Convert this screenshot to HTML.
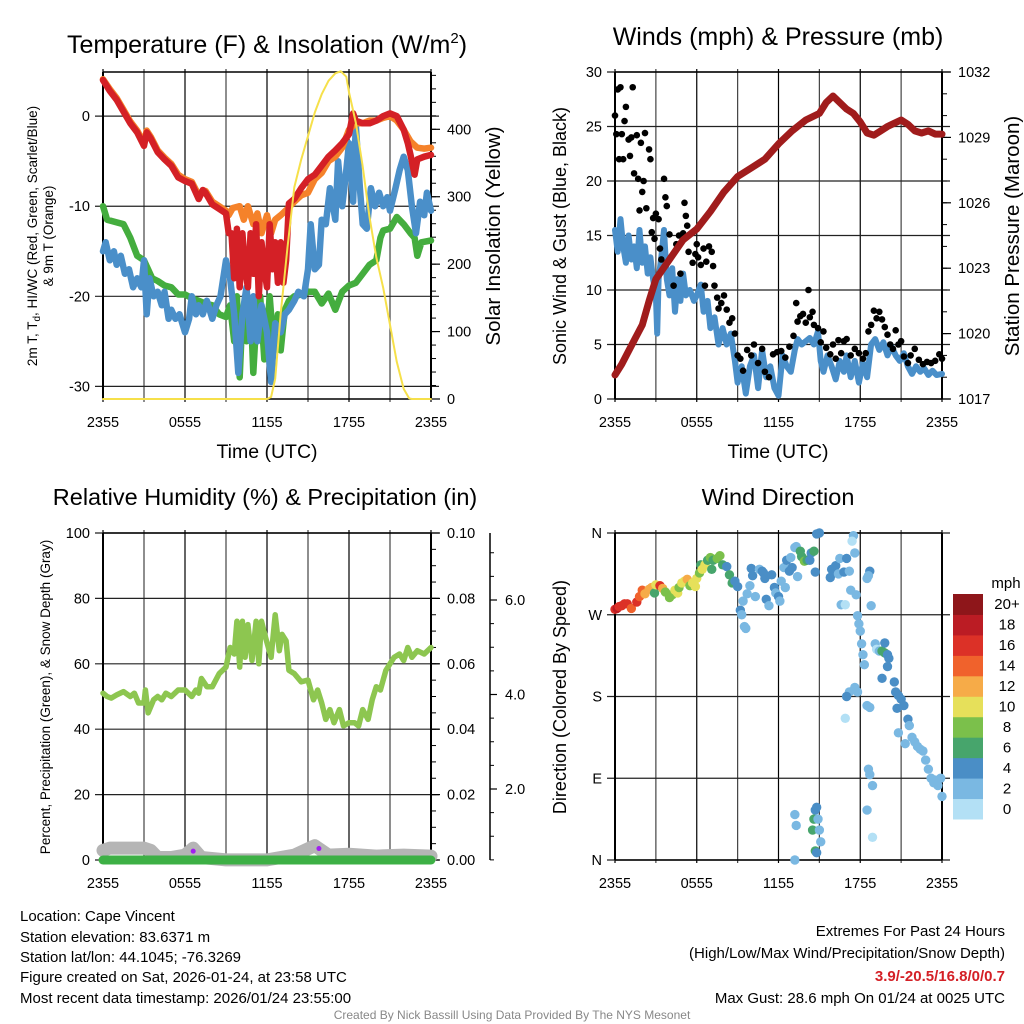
<!DOCTYPE html>
<html><head><meta charset="utf-8"><style>
html,body{margin:0;padding:0;background:#fff;}
svg{display:block;font-family:"Liberation Sans",sans-serif;}
</style></head><body>
<svg id="chart" xmlns="http://www.w3.org/2000/svg" width="1024" height="1024" viewBox="0 0 1024 1024"></svg>
<script>
// ---------- DATA ----------
const xTickLabels = ["2355","0555","1155","1755","2355"];
const tempTicks = [0,-10,-20,-30];
const solarTicks = [0,100,200,300,400];
const windTicks = [0,5,10,15,20,25,30];
const pressTicks = [1017,1020,1023,1026,1029,1032];
const rhTicks = [0,20,40,60,80,100];
const precipTicks = [0,0.02,0.04,0.06,0.08,0.10];
const snowTicks = [2,4,6];
const dirLabels = ["N","E","S","W","N"];
const dirTicks = [0,90,180,270,360];
const speedBins = ["0","2","4","6","8","10","12","14","16","18","20+"];
const speedColors = ["#b3e0f5","#7ab8e2","#4a8ec6","#47a56c","#7bc04b","#e6e05a","#f6ab48","#f0622c","#dc3127","#bb1c24","#8e161a"];

const tempRed = [[0,4],[0.5,2.8],[1,1.8],[1.5,0.5],[2,-0.8],[2.5,-1.8],[3,-3.3],[3.2,-1.8],[3.5,-2.5],[4,-4],[4.5,-4.8],[5,-5.5],[5.5,-6.8],[6,-7.2],[6.5,-7.5],[7,-9.2],[7.3,-8.2],[7.5,-8.5],[8,-9.8],[8.5,-10.3],[9,-10.8],[9.2,-13],[9.4,-13],[9.6,-18],[9.8,-12.5],[10,-19],[10.2,-13],[10.4,-17],[10.6,-19],[10.8,-13],[11,-17.5],[11.2,-12],[11.4,-20],[11.6,-14],[11.8,-17],[12,-19],[12.2,-12],[12.4,-17],[12.6,-14],[12.8,-18.5],[13,-14],[13.2,-18.5],[13.4,-16],[13.6,-9.7],[14,-9.2],[14.5,-8],[15,-7],[15.5,-6.5],[16,-5.5],[16.5,-4.5],[17,-3.8],[17.5,-3],[18,-2],[18.3,0.3],[18.5,-0.5],[19,-0.8],[19.5,-0.8],[20,-0.5],[20.5,0],[21,0.3],[21.5,0],[22,-1.5],[22.3,-3],[22.5,-4.3],[22.8,-6.5],[23,-4.8],[23.5,-4.5],[24,-4.3]];
const tempOrange = [[0,4.1],[0.5,3],[1,2],[1.5,0.7],[2,-0.6],[2.5,-1.6],[3,-3],[3.2,-1.6],[3.5,-2.3],[4,-3.8],[4.5,-4.6],[5,-5.3],[5.5,-6.5],[6,-7],[6.5,-7.3],[7,-8.8],[7.5,-8.3],[8,-9.5],[8.5,-10],[9,-10.5],[9.2,-11],[9.5,-10.2],[10,-10],[10.3,-11.5],[10.6,-10],[11,-12],[11.3,-10.8],[11.6,-13],[12,-11],[12.3,-13],[12.6,-11.5],[13,-11],[13.5,-10.3],[14,-9.5],[14.5,-8.8],[15,-8.5],[15.5,-7],[16,-6.3],[16.5,-5],[17,-4.5],[17.5,-3.5],[18,-1.5],[18.5,-0.8],[19,-0.8],[19.5,-0.5],[20,-0.5],[20.5,-0.2],[21,0],[21.5,-0.5],[22,-1.5],[22.5,-2.8],[23,-3.5],[23.5,-3.6],[24,-3.5]];
const tempGreen = [[0,-10],[0.3,-11.5],[1,-11.8],[1.5,-12],[2,-13.5],[2.5,-15.5],[3,-16],[3.3,-17],[3.6,-18],[4,-18.3],[4.5,-18.8],[5,-19],[5.5,-19.8],[6,-19.8],[6.5,-20.2],[7,-20.5],[7.5,-20.8],[8,-21],[8.5,-22],[9,-22.3],[9.3,-21],[9.6,-25],[9.8,-20],[10,-29],[10.2,-22],[10.5,-25],[10.8,-21],[11,-28.5],[11.2,-23],[11.5,-20],[11.8,-27],[12,-24],[12.2,-20],[12.5,-26],[12.8,-22],[13,-26],[13.3,-21.5],[13.6,-20.5],[14,-20],[14.5,-19.8],[15,-19.5],[15.5,-19.5],[16,-20.8],[16.5,-19.7],[17,-21.5],[17.5,-19.5],[18,-18.8],[18.5,-18.5],[19,-17.5],[19.5,-16.5],[20,-16],[20.3,-13.5],[20.5,-12.7],[21,-12.5],[21.5,-11.2],[22,-12],[22.5,-13],[22.8,-13.5],[23,-15.5],[23.3,-14],[24,-13.8]];
const tempBlue = [[0,-15],[0.2,-14],[0.5,-16],[0.8,-15],[1,-16.5],[1.3,-15.5],[1.6,-17.5],[1.9,-17],[2.2,-19],[2.5,-18],[2.8,-19],[3,-16],[3.2,-22],[3.4,-18],[3.7,-20],[4,-19.5],[4.3,-21],[4.5,-19.5],[4.8,-22.5],[5,-21.5],[5.3,-22.5],[5.6,-22],[6,-24],[6.3,-22.5],[6.5,-20],[6.8,-22],[7,-21],[7.3,-22],[7.6,-20.5],[8,-22.5],[8.3,-21],[8.6,-20],[9,-16],[9.3,-18],[9.6,-22],[9.9,-28.5],[10.2,-22],[10.5,-19],[10.8,-25],[11,-20],[11.3,-25],[11.6,-21],[12,-24],[12.3,-29.5],[12.6,-23],[13,-24],[13.3,-22],[13.6,-21.5],[14,-20.5],[14.3,-19.5],[14.7,-20],[15,-17],[15.2,-12],[15.5,-17],[15.8,-16.5],[16,-11.5],[16.3,-12],[16.6,-8],[17,-11.5],[17.2,-5],[17.5,-10],[17.8,-6],[18,-3],[18.3,-9.5],[18.5,-1],[18.8,-8],[19,-12],[19.3,-12.5],[19.6,-8],[19.9,-10],[20.2,-8.5],[20.5,-10],[20.8,-9],[21,-10.5],[21.4,-8],[21.7,-6],[22,-4.5],[22.3,-6],[22.6,-10],[22.9,-13],[23.2,-9.5],[23.5,-11],[23.7,-8.5],[24,-10.5]];
const solar = [[0,0],[12,0],[12.3,3],[12.6,30],[13,127],[13.5,225],[14,314],[14.5,355],[15,390],[15.5,425],[16,452],[16.5,472],[17,483],[17.4,486],[17.8,478],[18,455],[18.5,410],[19,345],[19.5,270],[20,210],[20.5,165],[21,110],[21.5,55],[22,15],[22.4,1],[22.6,0],[24,0]];

const windSpeed = [[0,15.5],[0.2,13.5],[0.4,16.5],[0.6,14],[0.8,12.5],[1,15],[1.2,12.8],[1.4,14],[1.6,12],[1.8,15.5],[2,12.5],[2.2,14],[2.4,11.5],[2.6,13],[2.8,11],[3,9.5],[3.1,6],[3.2,11],[3.4,13],[3.6,15.5],[3.8,11],[4,9.5],[4.2,12],[4.4,8],[4.6,11],[4.8,9],[5,11.5],[5.2,9.5],[5.5,10],[5.8,9],[6,9.5],[6.3,10.5],[6.5,8],[6.8,9],[7,6.5],[7.3,7.5],[7.6,5],[7.9,6.5],[8.2,5],[8.5,6],[8.8,3.5],[9,1.5],[9.3,3],[9.6,0.5],[9.9,3],[10.2,4],[10.5,1],[10.8,4.5],[11.1,2],[11.4,3],[11.7,1],[12,0.3],[12.3,4],[12.6,3],[12.9,2.5],[13.2,4.5],[13.4,5.5],[13.7,5],[14,5.3],[14.3,5.6],[14.6,5],[14.9,6.2],[15.1,3.5],[15.3,2.5],[15.6,4],[15.9,3],[16.2,1.8],[16.5,3.5],[16.8,2.5],[17,4],[17.3,2],[17.6,3.5],[17.9,1.5],[18.2,3.3],[18.5,2],[18.8,5],[19.1,5.5],[19.4,4.5],[19.7,5.2],[20,4],[20.3,4.8],[20.6,4],[20.9,3.5],[21.2,4.2],[21.5,3],[21.8,2.3],[22.1,3],[22.4,2.5],[22.7,2.8],[23,2.2],[23.3,2.6],[23.6,2.2],[24,2.3]];
const gusts = [[0,26],[0.1,24.3],[0.2,28.4],[0.3,22],[0.4,28.6],[0.5,24.3],[0.6,22],[0.7,25.5],[0.8,26.8],[1,23.8],[1.1,22.3],[1.2,24],[1.3,28.6],[1.4,20.7],[1.6,24.2],[1.7,20.2],[1.8,17.3],[1.9,23.5],[2,19],[2.1,20],[2.2,24.4],[2.3,17.5],[2.5,22.9],[2.6,22],[2.7,15.3],[2.8,16.6],[2.9,14.7],[3,17],[3.2,16.5],[3.3,13.8],[3.4,12.8],[3.6,20.2],[3.7,18.5],[3.8,17.7],[4,15.1],[4.1,13],[4.3,10.4],[4.5,14.2],[4.7,15],[4.8,11.5],[5,15.2],[5.1,18],[5.2,16.8],[5.3,15.9],[5.4,13.5],[5.5,15.1],[5.7,12.5],[5.9,13.3],[6,14.2],[6.1,13],[6.3,12.3],[6.5,13.8],[6.6,10.4],[6.7,12.6],[6.9,14],[7.1,13.5],[7.2,12.2],[7.3,10.4],[7.5,9.3],[7.6,8.3],[7.8,8.8],[8,9.5],[8.2,8.2],[8.4,7],[8.6,7.4],[8.8,6],[9,4],[9.2,3.7],[9.4,2.6],[9.7,4.5],[10,4],[10.2,5],[10.5,3.3],[10.8,4.6],[11,2.5],[11.3,2],[11.6,4.1],[11.9,4.3],[12.2,4.4],[12.5,3.8],[12.8,4.8],[13.1,5.8],[13.3,8.8],[13.4,7.1],[13.6,7.6],[13.8,7.8],[14,7],[14.2,10],[14.3,7.5],[14.5,8],[14.6,6.8],[14.9,6.5],[15.1,5.2],[15.3,6.2],[15.5,4.7],[15.8,4.1],[16,5],[16.2,3.7],[16.4,5.4],[16.6,4.2],[16.8,5.3],[17,5.5],[17.3,4],[17.6,4.6],[17.9,4.2],[18.2,3.7],[18.4,4.2],[18.6,6.2],[18.8,6.8],[19,8.1],[19.2,7.4],[19.4,8],[19.6,7.3],[19.8,6.6],[20,5.9],[20.2,5],[20.4,4.6],[20.6,6.3],[20.8,5],[21,5.3],[21.2,3.9],[21.5,3.3],[21.7,4],[22,4.6],[22.3,3.6],[22.6,3.2],[22.9,3.4],[23.2,3.3],[23.5,3.5],[23.8,4.1],[24,3.7]];
const pressure = [[0,1018.1],[0.5,1018.6],[1,1019.2],[1.5,1019.8],[2,1020.4],[2.5,1021.5],[3,1022.5],[4,1023.4],[5,1024.3],[6,1024.8],[7,1025.6],[8,1026.5],[9,1027.2],[10,1027.6],[11,1028],[12,1028.7],[13,1029.3],[14,1029.8],[15,1030.1],[15.5,1030.6],[16,1030.9],[17,1030.3],[17.5,1030.1],[18,1029.7],[18.5,1029.2],[19,1029.1],[19.5,1029.3],[20,1029.5],[21,1029.8],[21.5,1029.6],[22,1029.3],[22.5,1029.2],[23,1029.3],[23.5,1029.15],[24,1029.15]];

const rh = [[0,51],[0.3,50],[0.6,49.5],[1,50.5],[1.5,51.5],[2,50],[2.3,51],[2.6,48],[3,48],[3.1,52],[3.3,45],[3.7,49],[4,50],[4.3,49],[4.6,51],[5,50],[5.5,52],[6,52],[6.5,50],[6.8,52],[7,51],[7.2,55.5],[7.6,53],[8,53],[8.5,57],[9,59],[9.3,65],[9.6,63],[9.8,73],[10,59],[10.2,73],[10.4,62],[10.6,72],[10.9,61],[11.2,73],[11.4,60],[11.6,73],[11.9,68],[12.3,62],[12.6,75],[12.9,64],[13.1,69],[13.4,67],[13.6,58],[14,57],[14.5,54.5],[15,55],[15.4,49],[15.7,52],[16,48],[16.3,43],[16.6,46],[16.9,42],[17.3,46],[17.6,41],[18,42],[18.4,42],[18.7,41],[19,46],[19.4,43],[19.7,49],[20,53],[20.3,52],[20.7,58],[21,60],[21.3,62],[21.7,63],[22,61],[22.3,65],[22.6,62],[23,64],[23.5,63],[24,65]];
const snowDepth = [[0,0.7],[0.5,0.75],[1,0.75],[2,0.75],[3,0.75],[3.5,0.7],[4,0.55],[5,0.55],[6,0.6],[6.6,0.75],[7.2,0.55],[9,0.5],[12,0.5],[13,0.55],[14,0.6],[15.5,0.8],[16.5,0.6],[18,0.62],[20,0.58],[22,0.6],[24,0.58]];
const precip = [[0,0],[24,0]];
const precipEvents = [[6.6,0.0027],[15.8,0.0035]];

const windDir = [[0,276,16],[0.15,277,17],[0.3,279,16],[0.5,280,16],[0.7,282,15],[0.9,282,16],[1.2,277,14],[1.6,284,16],[1.8,290,13],[2,297,14],[2.2,293,12],[2.5,298,12],[2.7,300,11],[2.9,294,6],[3,303,9],[3.3,302,15],[3.5,299,12],[3.7,295,8],[4,289,8],[4.2,292,7],[4.4,297,10],[4.6,294,9],[4.7,300,8],[4.9,305,10],[5.1,307,10],[5.3,309,11],[5.5,302,8],[5.7,305,9],[5.9,301,10],[6,310,9],[6.2,316,8],[6.3,325,6],[6.4,320,10],[6.6,325,10],[6.8,330,6],[7,333,8],[7.1,320,5],[7.2,330,6],[7.5,332,7],[7.7,335,8],[7.9,325,6],[8.2,323,4],[8.4,314,6],[8.6,305,6],[8.8,307,4],[9,301,3],[9.2,275,3],[9.3,270,1],[9.5,257,2],[9.6,255,1],[9.4,285,2],[9.7,293,1],[9.9,302,2],[10,321,3],[10.1,313,4],[10.3,290,1],[10.6,320,1],[10.8,318,4],[10.9,316,3],[11,310,4],[11.1,287,3],[11.3,280,2],[11.5,314,4],[11.7,300,3],[11.8,294,2],[12,290,3],[12.1,285,1],[12.2,307,1],[12.4,322,2],[12.5,300,1],[12.6,330,3],[12.8,318,3],[12.9,333,2],[13,322,4],[13.2,344,2],[13.3,345,2],[13.4,312,2],[13.6,340,6],[13.7,334,5],[13.9,329,7],[14.1,330,6],[14.3,330,3],[14.4,338,4],[14.6,340,5],[14.7,317,4],[14.8,359,4],[15,360,3],[13.2,50,2],[13.3,38,2],[13.2,0,2],[14.6,45,6],[14.5,33,6],[14.7,55,4],[14.8,58,4],[14.9,45,2],[15,33,2],[15.1,20,2],[14.7,10,6],[14.8,8,4],[15.8,311,4],[15.9,320,4],[16.1,316,4],[16.2,324,4],[16.4,315,2],[16.5,332,2],[16.6,281,2],[16.8,317,3],[16.9,281,0],[17,332,3],[17.2,318,2],[17.3,297,2],[17.5,357,2],[17.4,351,0],[17.6,338,2],[17.7,292,2],[17.8,269,2],[17.9,260,2],[18,252,2],[18.1,238,2],[18.2,226,2],[18.3,215,2],[17.6,190,2],[17.2,185,2],[17.0,180,4],[16.9,156,0],[17.8,185,2],[18.5,310,1],[18.7,318,4],[18.6,313,2],[18.8,280,2],[18.5,170,2],[18.7,168,1],[18.6,100,2],[18.7,94,2],[18.9,82,2],[18.5,55,2],[18.9,25,0],[19.1,238,2],[19.2,232,0],[19.4,230,2],[19.6,230,6],[19.8,228,6],[20,226,4],[19.8,239,4],[20.1,222,4],[19.6,200,4],[20.0,213,4],[20.5,196,4],[20.6,185,4],[20.8,181,4],[21,177,4],[21.2,170,4],[21.5,155,4],[21.6,148,2],[21.8,135,2],[22,130,2],[22.2,125,2],[22.4,122,2],[22.6,120,2],[22.8,110,2],[23,100,2],[23.2,90,2],[23.4,85,2],[23.5,88,2],[23.7,82,2],[23.9,90,2],[24,70,2],[20.8,140,2],[21.3,128,2],[20.7,167,4]];

// ---------- HELPERS ----------
const NS = "http://www.w3.org/2000/svg";
const svg = document.getElementById("chart");
function mk(tag, attrs, parent) {
  const e = document.createElementNS(NS, tag);
  for (const k in attrs) e.setAttribute(k, attrs[k]);
  (parent || svg).appendChild(e);
  return e;
}
function lin(d0, d1, r0, r1) { return v => r0 + (v - d0) / (d1 - d0) * (r1 - r0); }

const P = {
  temp: {x0:103,x1:431,y0:72,y1:399},
  wind: {x0:615,x1:942,y0:72,y1:399},
  rh:   {x0:103,x1:431,y0:533,y1:860},
  dir:  {x0:615,x1:942,y0:533,y1:860}
};

function text(parent, x, y, s, size, anchor, extra) {
  const t = mk("text", Object.assign({x:x, y:y, "font-size":size, "text-anchor":anchor||"middle", fill:"#000"}, extra||{}), parent);
  t.textContent = s;
  return t;
}
function vtext(parent, x, y, s, size) {
  return text(parent, x, y, s, size, "middle", {transform:"rotate(-90 "+x+" "+y+")"});
}

function frame(p, name, yTicks, yScale, yLabels) {
  const g = mk("g", {});
  
  
  const xs = lin(0, 24, p.x0, p.x1);
  for (let h = 0; h <= 24; h += 3) {
    const x = xs(h);
    const gl = mk("line", {x1:x, x2:x, y1:p.y0-3, y2:p.y1+3, stroke:(h%6===0?"#000":"#444"), "stroke-width":1.2}, g);
    
    
  }
  xTickLabels.forEach((s, i) => {
    const t = text(g, xs(i*6), p.y1+28, s, 14.5);
    
    
  });
  yTicks.forEach((v, i) => {
    const y = yScale(v);
    const l = mk("line", {x1:p.x0-8, x2:p.x1+8, y1:y, y2:y, stroke:"#222", "stroke-width":1.2}, g);
    
    
    const t = text(g, p.x0-13, y+5, yLabels ? yLabels[i] : String(v), 14.5, "end");
    
    
  });
  mk("line", {x1:p.x0, x2:p.x0, y1:p.y0, y2:p.y1, stroke:"#000", "stroke-width":2}, g);
  mk("line", {x1:p.x1, x2:p.x1, y1:p.y0, y2:p.y1, stroke:"#000", "stroke-width":2}, g);
  mk("line", {x1:p.x0, x2:p.x1, y1:p.y0, y2:p.y0, stroke:"#000", "stroke-width":1.5}, g);
  mk("line", {x1:p.x0, x2:p.x1, y1:p.y1, y2:p.y1, stroke:"#000", "stroke-width":1.5}, g);
  return xs;
}
function rightAxis(p, name, majors, minorStep, d0, d1, fmt, x) {
  const ax = x || p.x1;
  const g = mk("g", {});
  
  
  const ys = lin(d0, d1, p.y1, p.y0);
  for (let v = d0; v <= d1 + 1e-9; v += minorStep) {
    mk("line", {x1:ax, x2:ax+5, y1:ys(v), y2:ys(v), stroke:"#000", "stroke-width":1}, g);
  }
  majors.forEach(v => {
    mk("line", {x1:ax, x2:ax+9, y1:ys(v), y2:ys(v), stroke:"#000", "stroke-width":1.2}, g);
    const t = text(g, ax+16, ys(v)+5, fmt(v), 14.5, "start");
    
    
  });
  return ys;
}
function pathFrom(pairs, xs, ys) {
  return pairs.map((d, i) => (i ? "L" : "M") + xs(d[0]).toFixed(1) + "," + ys(d[1]).toFixed(1)).join("");
}
function series(g, pairs, xs, ys, color, w, name) {
  const pth = mk("path", {d:pathFrom(pairs, xs, ys), fill:"none", stroke:color, "stroke-width":w, "stroke-linejoin":"round", "stroke-linecap":"round"}, g);
  
  
  return pth;
}

// ---------- PANEL 1: Temperature ----------
(function(){
  const p = P.temp;
  const ty = lin(-31.4, 4.9, p.y1, p.y0);
  const xs = frame(p, "temperature", tempTicks, ty);
  const sy = rightAxis(p, "solar-axis", solarTicks, 20, 0, 485, v => String(v));
  const g = mk("g", {});
  
  
  series(g, tempGreen, xs, ty, "#44ad3e", 6.5, "dewpoint-line");
  series(g, tempBlue, xs, ty, "#4a8fc9", 6.5, "wind-chill-line");
  series(g, tempOrange, xs, ty, "#f5822a", 6.5, "temp-9m-line");
  series(g, tempRed, xs, ty, "#d42026", 6.5, "temp-2m-line");
  series(g, solar, xs, sy, "#f6e04a", 2, "solar-insolation-line");
  const t = text(svg, 267, 53, "Temperature (F) & Insolation (W/m", 25);
  const sup = mk("tspan", {"font-size":15, dy:-10}, t); sup.textContent = "2";
  const cl = mk("tspan", {dy:10}, t); cl.textContent = ")";
  
  
  const xt = text(svg, 267, 458, "Time (UTC)", 19.5);
  
  
  const rt = vtext(svg, 500, 236, "Solar Insolation (Yellow)", 20.5);
  
  
  const l1 = vtext(svg, 37, 236, "", 13.5);
  l1.innerHTML = '2m T, T<tspan font-size="10" dy="3">d</tspan><tspan dy="-3">, HI/WC (Red, Green, Scarlet/Blue)</tspan>';
  
  
  const l2 = vtext(svg, 53, 236, "& 9m T (Orange)", 13.5);
  
  
})();

// ---------- PANEL 2: Winds ----------
(function(){
  const p = P.wind;
  const wy = lin(0, 30, p.y1, p.y0);
  const xs = frame(p, "wind", windTicks, wy);
  const py = rightAxis(p, "pressure-axis", pressTicks, 1, 1017, 1032, v => String(v));
  const g = mk("g", {});
  
  
  series(g, windSpeed, xs, wy, "#4a8fc9", 6, "sustained-wind-line");
  gusts.forEach(d => {
    const c = mk("circle", {cx:xs(d[0]), cy:wy(d[1]), r:3.3, fill:"#000"}, g);
    
    
  });
  series(g, pressure, xs, py, "#a01c1c", 7, "pressure-line");
  const t = text(svg, 778, 45, "Winds (mph) & Pressure (mb)", 25);
  
  
  const xt = text(svg, 778, 458, "Time (UTC)", 19.5);
  
  
  const lt = vtext(svg, 566, 236, "Sonic Wind & Gust (Blue, Black)", 18);
  
  
  const rt = vtext(svg, 1019, 236, "Station Pressure (Maroon)", 20.5);
  
  
})();

// ---------- PANEL 3: RH ----------
(function(){
  const p = P.rh;
  const ry = lin(0, 100, p.y1, p.y0);
  const xs = frame(p, "humidity", rhTicks, ry);
  const qy = rightAxis(p, "precip-axis", precipTicks, 0.005, 0, 0.1, v => v.toFixed(2));
  const sg = mk("g", {});
  
  
  const sy = v => 883.5 - v * 47.25;
  mk("line", {x1:490, x2:490, y1:p.y0, y2:p.y1, stroke:"#000", "stroke-width":1.5}, sg);
  for (let v = 0.5; v <= 7; v += 0.5) {
    if (sy(v) < p.y0 || sy(v) > p.y1) continue;
    mk("line", {x1:490, x2:494, y1:sy(v), y2:sy(v), stroke:"#000", "stroke-width":1}, sg);
  }
  snowTicks.forEach(v => {
    mk("line", {x1:490, x2:497, y1:sy(v), y2:sy(v), stroke:"#000", "stroke-width":1.2}, sg);
    const t = text(sg, 505, sy(v)+5, v.toFixed(1), 14.5, "start");
    
    
  });
  const g = mk("g", {});
  
  
  series(g, snowDepth, xs, sy, "#b5b5b5", 13, "snow-depth-line");
  series(g, precip, xs, qy, "#3db045", 9, "precipitation-line");
  precipEvents.forEach(d => {
    const c = mk("circle", {cx:xs(d[0]), cy:qy(d[1]), r:2.5, fill:"#a020f0"}, g);
    
    
  });
  series(g, rh, xs, ry, "#8dc650", 5.5, "relative-humidity-line");
  const t = text(svg, 265, 505, "Relative Humidity (%) & Precipitation (in)", 23.5);
  
  
  const lt = vtext(svg, 50, 697, "Percent, Precipitation (Green), & Snow Depth (Gray)", 13.5);
  
  
})();

// ---------- PANEL 4: Direction ----------
(function(){
  const p = P.dir;
  const dy = lin(0, 360, p.y1, p.y0);
  const xs = frame(p, "direction", dirTicks, dy, dirLabels);
  const g = mk("g", {});
  
  
  windDir.forEach(d => {
    const bin = Math.min(10, Math.max(0, Math.round(d[2] / 2)));
    const c = mk("circle", {cx:xs(d[0]), cy:dy(d[1]), r:4.7, fill:speedColors[bin]}, g);
    
    
  });
  const t = text(svg, 778, 505, "Wind Direction", 23.5);
  
  
  const lt = vtext(svg, 566, 697, "Direction (Colored By Speed)", 18);
  
  
  const lg = mk("g", {});
  
  
  const mt = text(lg, 1006, 588, "mph", 15);
  
  
  const bh = 225 / speedColors.length;
  speedColors.forEach((c, i) => {
    const y = 594 + (speedColors.length - 1 - i) * bh;
    const r = mk("rect", {x:953, y:y, width:30, height:bh+0.5, fill:c}, lg);
    
    
    const tl = text(lg, 1007, y + bh/2 + 5, speedBins[i], 15);
    
    
  });
})();

// ---------- FOOTER ----------
(function(){
  const g = mk("g", {});
  
  
  const left = ["Location: Cape Vincent","Station elevation: 83.6371 m","Station lat/lon: 44.1045; -76.3269","Figure created on Sat, 2026-01-24, at 23:58 UTC","Most recent data timestamp: 2026/01/24 23:55:00"];
  const ly = [921, 942, 962, 982, 1003];
  left.forEach((s, i) => {
    const t = text(g, 20, ly[i], s, 15, "start");
    
    
  });
  const r1 = text(g, 1005, 936, "Extremes For Past 24 Hours", 15, "end");
  
  
  const r2 = text(g, 1005, 958, "(High/Low/Max Wind/Precipitation/Snow Depth)", 15, "end");
  
  
  const r3 = text(g, 1005, 981, "3.9/-20.5/16.8/0/0.7", 15, "end", {fill:"#d42026", "font-weight":"bold"});
  
  
  const r4 = text(g, 1005, 1003, "Max Gust: 28.6 mph On 01/24 at 0025 UTC", 15, "end");
  
  
  const cr = text(g, 512, 1019, "Created By Nick Bassill Using Data Provided By The NYS Mesonet", 12, "middle", {fill:"#888"});
  
  
})();
</script>
</body></html>
